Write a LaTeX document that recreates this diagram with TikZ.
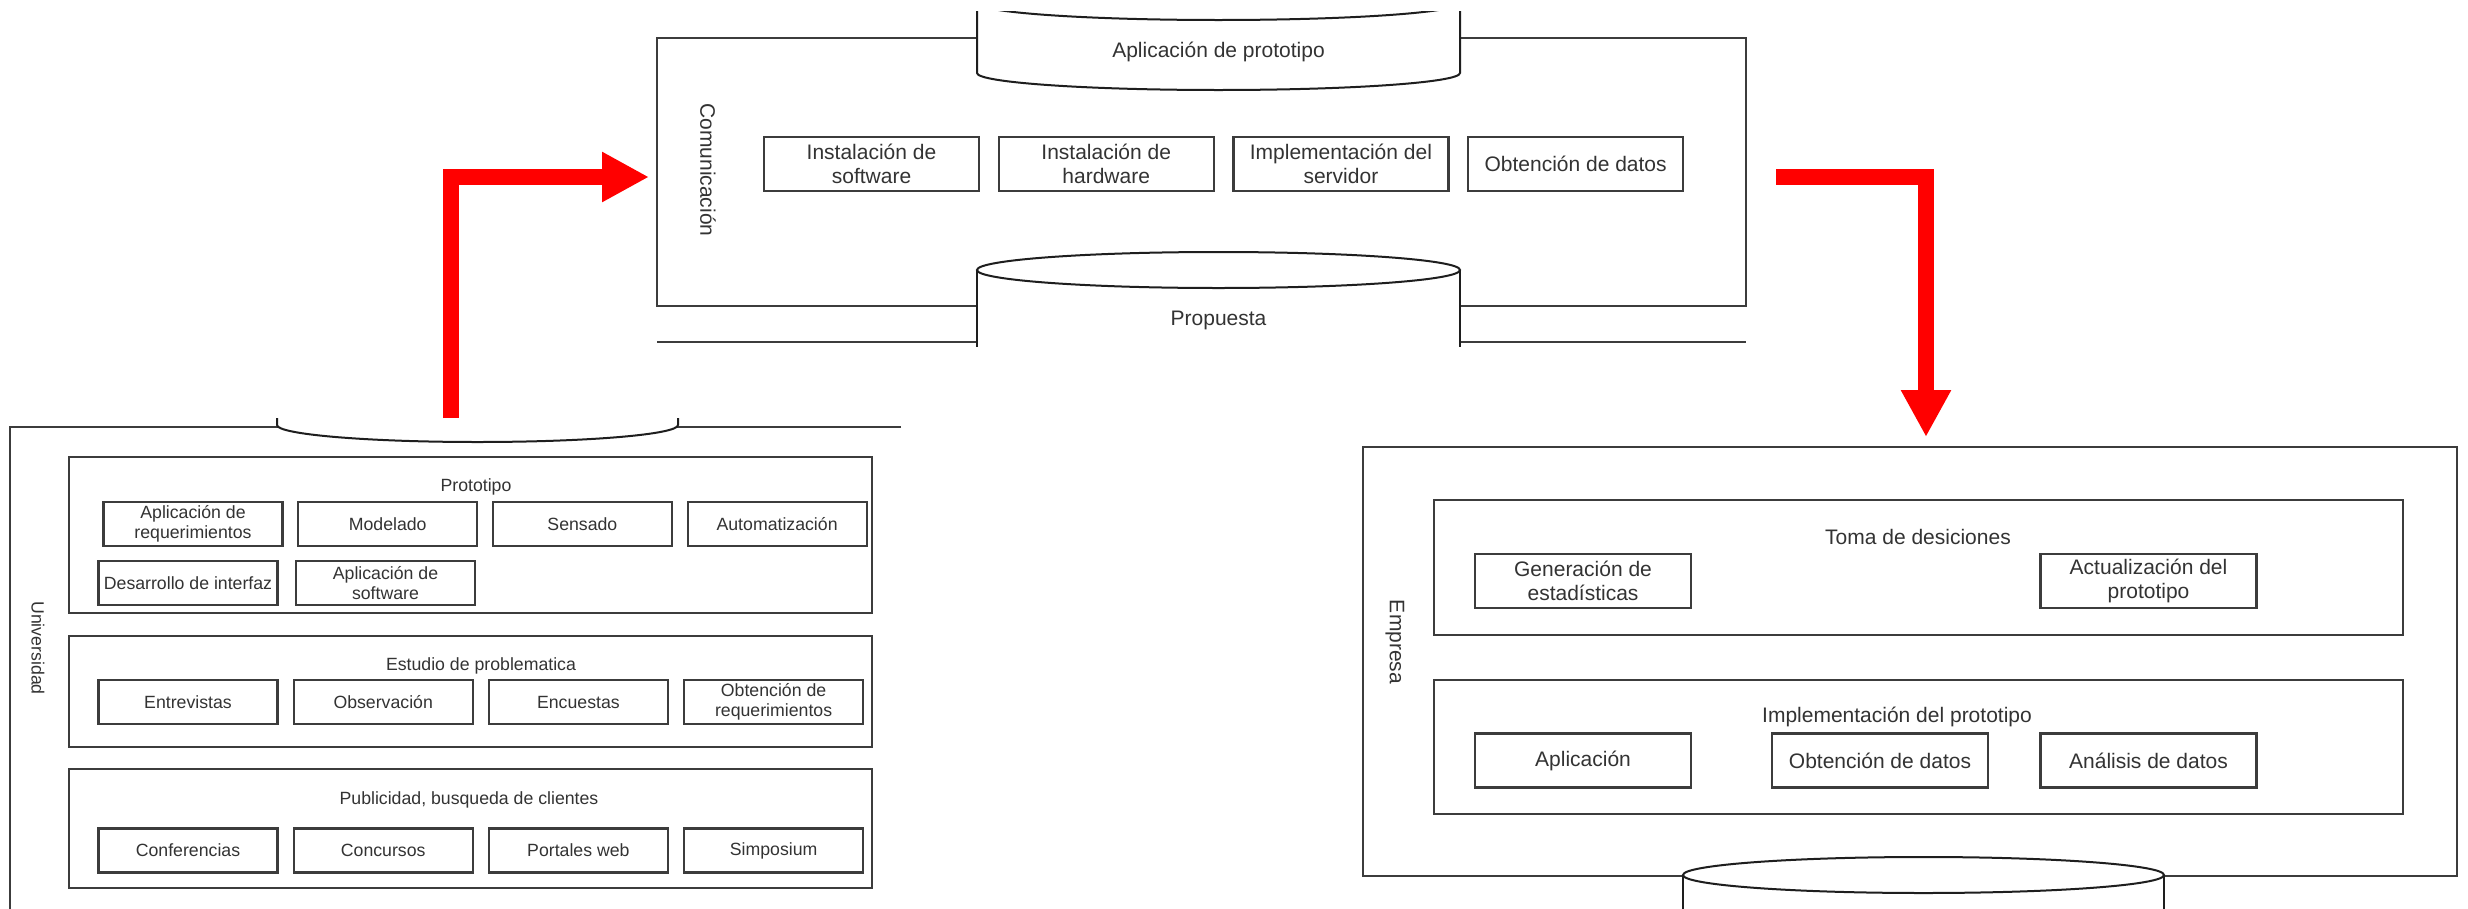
\documentclass[tikz,border=0pt]{standalone}
\usepackage{fontspec}
\setmainfont{Liberation Sans}
\usetikzlibrary{arrows.meta,positioning}
\definecolor{ink}{HTML}{333333}
\definecolor{frameGray}{HTML}{3C3C3C}
\definecolor{storeInk}{HTML}{1E1E1E}
\definecolor{flowRed}{HTML}{FF0000}
\tikzset{
  big text/.style={font=\fontsize{21}{24.5}\selectfont},
  small text/.style={font=\fontsize{17.7}{20.5}\selectfont},
  lane frame/.style={
    draw=frameGray,
    fill=white,
    line width=2.4pt,
    inner sep=0pt
  },
  lane edge/.style={
    draw=frameGray,
    line width=2.4pt
  },
  group frame/.style={
    lane frame,
    line width=2.2pt
  },
  task box/.style={
    draw=frameGray,
    fill=white,
    line width=2.2pt,
    align=center,
    inner sep=0pt,
    text=ink
  },
  wide task/.style={
    task box,
    big text,
    minimum width=215pt,
    minimum height=54pt
  },
  narrow task/.style={
    task box,
    small text,
    minimum width=179pt,
    minimum height=44pt
  },
  lane label/.style={
    rotate=-90,
    inner sep=0pt,
    text=ink
  },
  group title/.style={
    inner sep=0pt,
    text=ink
  },
  data store/.style={
    draw=storeInk,
    fill=white,
    line width=2pt
  },
  flow arrow/.style={
    draw=flowRed,
    line width=16pt,
    -{Triangle[length=47pt,width=47pt]}
  }
}

\begin{document}
\begin{tikzpicture}[x=1pt,y=-1pt]
  \useasboundingbox (0,0) rectangle (2468,908);
  \clip (0,0) rectangle (2468,908);

  % Comunicacion
  \node[lane frame,minimum width=1089pt,minimum height=268pt] (comm) at (1201.5,172) {};
  \node[lane label,big text] (comm-label) at (708,170) {Comunicación};
  \node[wide task] (sw-install) at (871.5,164) {Instalación de\\software};
  \node[wide task,right=17.5pt of sw-install] (hw-install) {Instalación de\\hardware};
  \node[wide task,right=17.5pt of hw-install] (server) {Implementación del\\servidor};
  \node[wide task,right=17.5pt of server] (comm-data) {Obtención de datos};
  \draw[lane edge] (657,342) -- (1746,342);
  \begin{scope}
    \clip (640,11) rectangle (1760,346);
    \draw[data store] (977,-30) -- (977,73)
      arc[start angle=180,end angle=360,x radius=241.5pt,y radius=17pt] -- (1460,-30);
    \draw[data store] (1218.5,3) ellipse[x radius=241.5pt,y radius=17pt];
    \node[group title,big text] (prototype-app) at (1218.5,52) {Aplicación de prototipo};
    \draw[data store] (977,270) -- (977,380) -- (1460,380) -- (1460,270);
    \draw[data store] (1218.5,270) ellipse[x radius=241.5pt,y radius=18pt];
    \node[group title,big text] (proposal) at (1218.5,320) {Propuesta};
  \end{scope}

  % Universidad
  \draw[lane edge] (901,427) -- (10,427) -- (10,930);
  \node[lane label,small text] (univ-label) at (38,648) {Universidad};
  \begin{scope}
    \clip (250,418) rectangle (700,460);
    \draw[data store] (277,400) -- (277,425)
      arc[start angle=180,end angle=360,x radius=200.5pt,y radius=17pt] -- (678,400);
  \end{scope}

  \node[group frame,minimum width=803pt,minimum height=156pt] (prototype) at (470.5,535) {};
  \node[group title,small text] (prototype-title) at (476,487) {Prototipo};
  \node[narrow task] (req-app) at (193,524) {Aplicación de\\requerimientos};
  \node[narrow task,right=13.5pt of req-app] (modeling) {Modelado};
  \node[narrow task,right=13.5pt of modeling] (sensing) {Sensado};
  \node[narrow task,right=13.5pt of sensing] (automation) {Automatización};
  \node[narrow task] (interface) at (188,583) {Desarrollo de interfaz};
  \node[narrow task] (sw-app) at (385.5,583) {Aplicación de\\software};

  \node[group frame,minimum width=803pt,minimum height=111pt] (study) at (470.5,691.5) {};
  \node[group title,small text] (study-title) at (481,666) {Estudio de problematica};
  \node[narrow task] (interviews) at (188,702) {Entrevistas};
  \node[narrow task,right=14pt of interviews] (observation) {Observación};
  \node[narrow task,right=14pt of observation] (surveys) {Encuestas};
  \node[narrow task,right=14pt of surveys] (req-gathering) {Obtención de\\requerimientos};

  \node[group frame,minimum width=803pt,minimum height=119pt] (outreach) at (470.5,828.5) {};
  \node[group title,small text] (outreach-title) at (469,800) {Publicidad, busqueda de clientes};
  \node[narrow task] (conferences) at (188,850.5) {Conferencias};
  \node[narrow task,right=14pt of conferences] (contests) {Concursos};
  \node[narrow task,right=14pt of contests] (web-portals) {Portales web};
  \node[narrow task,right=14pt of web-portals] (symposium) {Simposium};

  % Empresa
  \node[lane frame,minimum width=1094pt,minimum height=429pt] (company) at (1910,661.5) {};
  \node[lane label,big text] (company-label) at (1395,642) {Empresa};
  \node[group frame,minimum width=969pt,minimum height=135pt] (decisions) at (1918.5,567.5) {};
  \node[group title,big text] (decisions-title) at (1918,537) {Toma de desiciones};
  \node[wide task,minimum width=216pt] (statistics) at (1583,581) {Generación de\\estadísticas};
  \node[wide task,minimum width=216pt] (update) at (2148.5,581) {Actualización del\\prototipo};
  \node[group frame,minimum width=969pt,minimum height=134pt] (rollout) at (1918.5,747) {};
  \node[group title,big text] (rollout-title) at (1897,717) {Implementación del prototipo};
  \node[wide task,minimum width=216pt] (application) at (1583,760.5) {Aplicación};
  \node[wide task,minimum width=216pt] (company-data) at (1880,760.5) {Obtención de datos};
  \node[wide task,minimum width=216pt] (analysis) at (2148.5,760.5) {Análisis de datos};
  \draw[data store] (1683,875) -- (1683,930) -- (2164,930) -- (2164,875);
  \draw[data store] (1923.5,875) ellipse[x radius=240.5pt,y radius=18pt];

  % flujo
  \coordinate (univ-out) at (451,418);
  \coordinate (comm-in) at (649,177);
  \coordinate (comm-out) at (1776,177);
  \coordinate (company-in) at (1926,437);
  \draw[flow arrow] (univ-out) |- (comm-in);
  \draw[flow arrow] (comm-out) -| (company-in);
\end{tikzpicture}
\end{document}
